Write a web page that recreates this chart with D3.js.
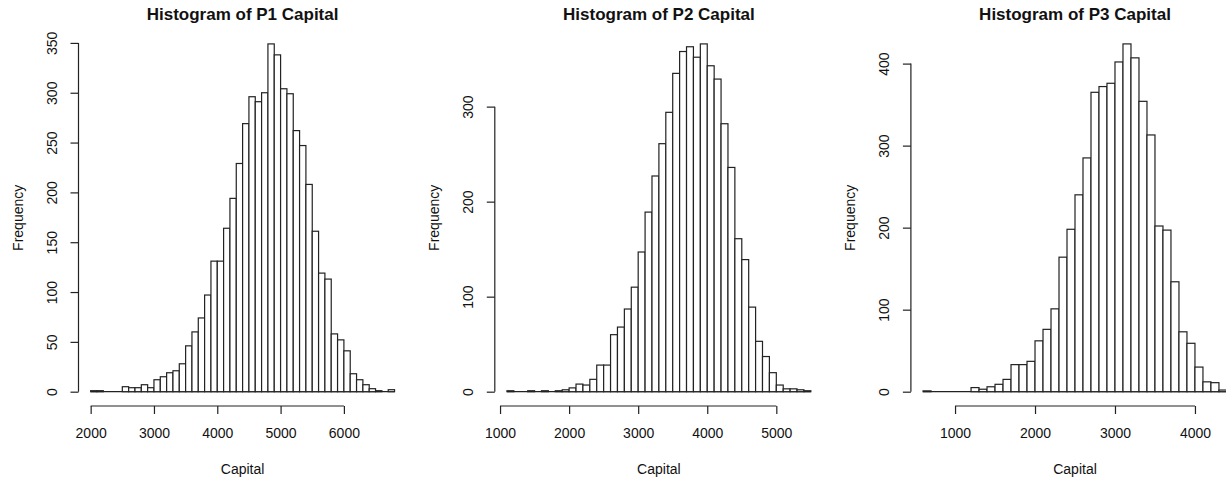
<!DOCTYPE html>
<html>
<head>
<meta charset="utf-8">
<script src="https://cdn.jsdelivr.net/npm/d3@7"></script>
<style>
  body { margin: 0; background: #fff; }
  svg { display: block; font-family: "Liberation Sans", Arial, Helvetica, sans-serif; }
</style>
</head>
<body>
<svg id="chart" width="1226" height="482"></svg>
<script>
// bin width is 100 for all three histograms
var binWidth = 100;

var titles = ["Histogram of P1 Capital", "Histogram of P2 Capital", "Histogram of P3 Capital"];

// P1: bins from 2000 to 6800
var p1Start = 2000;
var p1Counts = [1, 1, 0, 0, 0, 5, 4, 4, 7, 4,
    12, 15, 19, 21, 28, 46, 60, 74, 97, 131,
    131, 164, 194, 229, 269, 296, 291, 300, 349, 338,
    304, 299, 262, 247, 208, 161, 119, 113, 58, 52,
    41, 18, 12, 7, 3, 1, 0, 2];
var p1XTicks = [2000, 3000, 4000, 5000, 6000];
var p1YTicks = [0, 50, 100, 150, 200, 250, 300, 350];

// P2: bins from 1100 to 5500
var p2Start = 1100;
var p2Counts = [1, 0, 0, 1, 0, 1, 0, 1, 2,
    4, 8, 7, 13, 28, 28, 60, 68, 87, 110,
    147, 189, 227, 261, 294, 335, 358, 363, 352, 366,
    343, 329, 282, 236, 161, 139, 89, 53, 37, 20,
    7, 3, 3, 2, 1];
var p2XTicks = [1000, 2000, 3000, 4000, 5000];
var p2YTicks = [0, 100, 200, 300];

// P3: bins from 600 to 4400
var p3Start = 600;
var p3Counts = [1, 0, 0, 0,
    0, 0, 5, 3, 6, 9, 15, 33, 33, 37,
    62, 76, 101, 164, 198, 240, 285, 365, 372, 376,
    402, 424, 407, 354, 313, 202, 197, 134, 73, 59,
    30, 12, 11, 2];
var p3XTicks = [1000, 2000, 3000, 4000];
var p3YTicks = [0, 100, 200, 300, 400];

var panels = [
    {start: p1Start, counts: p1Counts, xticks: p1XTicks, yticks: p1YTicks, left: 78.5},
    {start: p2Start, counts: p2Counts, xticks: p2XTicks, yticks: p2YTicks, left: 494.8},
    {start: p3Start, counts: p3Counts, xticks: p3XTicks, yticks: p3YTicks, left: 910.9}
];

var plotW = 328.2;
var plotTop = 30;
var plotBottom = 405.6;
var ink = "#222";

var svg = d3.select("#chart");

panels.forEach(function(p, i) {
    var end = p.start + p.counts.length * binWidth;
    var span = end - p.start;
    var ymax = d3.max(p.counts);

    // R style: 4% padding on both scales
    var x = d3.scaleLinear()
        .domain([p.start - 0.04 * span, end + 0.04 * span])
        .range([p.left, p.left + plotW]);
    var y = d3.scaleLinear()
        .domain([-0.04 * ymax, 1.04 * ymax])
        .range([plotBottom, plotTop]);

    var bins = p.counts.map(function(c, k) {
        return {x0: p.start + k * binWidth, x1: p.start + (k + 1) * binWidth, n: c};
    });

    var g = svg.append("g").attr("class", "panel");

    // empty bins still get drawn flat in R, so run a baseline under all of them
    g.append("line")
        .attr("x1", x(p.start))
        .attr("x2", x(end))
        .attr("y1", y(0))
        .attr("y2", y(0))
        .attr("stroke", ink)
        .attr("stroke-width", 1.2);

    g.selectAll("rect.bar")
        .data(bins.filter(d => d.n > 0))
        .enter().append("rect")
        .attr("class", "bar")
        .attr("x", d => x(d.x0))
        .attr("width", d => x(d.x1) - x(d.x0))
        .attr("y", d => y(d.n))
        .attr("height", d => y(0) - y(d.n))
        .attr("fill", "#fff")
        .attr("stroke", ink)
        .attr("stroke-width", 1.2);

    // x axis
    var xAxis = d3.axisBottom(x)
        .tickValues(p.xticks)
        .tickFormat(d3.format("d"))
        .tickSize(8)
        .tickPadding(14);
    var gx = g.append("g")
        .attr("transform", "translate(0," + 406 + ")")
        .call(xAxis);
    gx.select(".domain").remove();
    gx.append("line")
        .attr("x1", x(p.xticks[0]))
        .attr("x2", x(p.xticks[p.xticks.length - 1]))
        .attr("stroke", ink)
        .attr("stroke-width", 1.2);
    gx.selectAll(".tick line").attr("stroke", ink).attr("stroke-width", 1.2);
    gx.selectAll(".tick text")
        .attr("fill", "#111")
        .style("font-size", "14px")
        .style("font-family", "Liberation Sans, Arial, sans-serif");

    // y axis, labels rotated like R's las=0
    var yAxis = d3.axisLeft(y)
        .tickValues(p.yticks)
        .tickSize(8);
    var gy = g.append("g")
        .attr("transform", "translate(" + p.left + ",0)")
        .call(yAxis);
    gy.select(".domain").remove();
    gy.append("line")
        .attr("y1", y(p.yticks[0]))
        .attr("y2", y(p.yticks[p.yticks.length - 1]))
        .attr("stroke", ink)
        .attr("stroke-width", 1.2);
    gy.selectAll(".tick line").attr("stroke", ink).attr("stroke-width", 1.2);
    gy.selectAll(".tick text")
        .attr("x", 0)
        .attr("y", -21.5)
        .attr("dy", null)
        .attr("transform", "rotate(-90)")
        .attr("text-anchor", "middle")
        .attr("fill", "#111")
        .style("font-size", "14px")
        .style("font-family", "Liberation Sans, Arial, sans-serif");

    var cx = p.left + plotW / 2;

    g.append("text")
        .attr("x", cx)
        .attr("y", 19.5)
        .attr("text-anchor", "middle")
        .style("font-size", "17px")
        .style("font-weight", "bold")
        .attr("fill", "#111")
        .text(titles[i]);

    g.append("text")
        .attr("x", cx)
        .attr("y", 474)
        .attr("text-anchor", "middle")
        .style("font-size", "14px")
        .attr("fill", "#111")
        .text("Capital");

    g.append("text")
        .attr("transform", "translate(" + (p.left - 55.5) + "," + ((plotTop + plotBottom) / 2) + ") rotate(-90)")
        .attr("text-anchor", "middle")
        .style("font-size", "14px")
        .attr("fill", "#111")
        .text("Frequency");
});
</script>
</body>
</html>
